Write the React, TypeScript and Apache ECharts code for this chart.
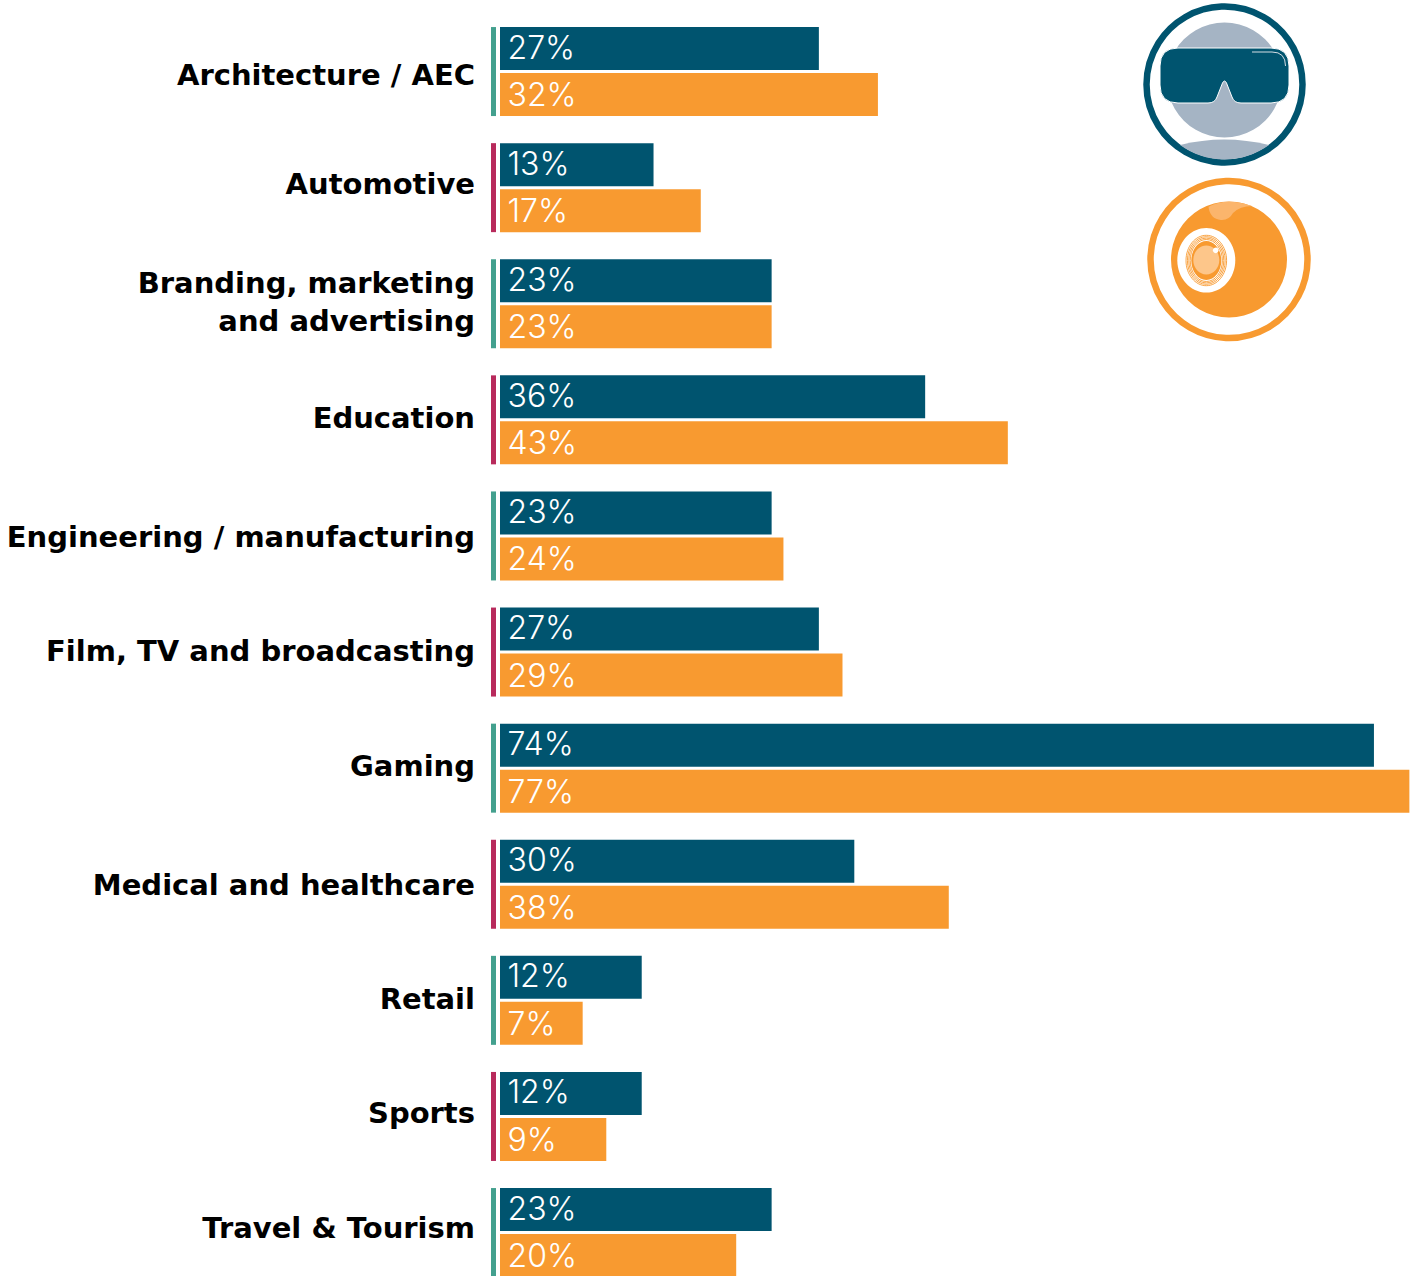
import React, { useEffect, useRef } from "react";
import * as echarts from "echarts";

const categories = [
  "Architecture / AEC",
  "Automotive",
  "Branding, marketing\nand advertising",
  "Education",
  "Engineering / manufacturing",
  "Film, TV and broadcasting",
  "Gaming",
  "Medical and healthcare",
  "Retail",
  "Sports",
  "Travel & Tourism",
];
const vrValues = [27, 13, 23, 36, 23, 27, 74, 30, 12, 12, 23];
const webValues = [32, 17, 23, 43, 24, 29, 77, 38, 7, 9, 20];
const labelNudges = [3, -4, 0, -2, 1, -1, -2, 1, -1, -3, -5];
const accentColors = ["#43a08e", "#b82a5c"];
const BLUE = "#00546f";
const ORANGE = "#f89a30";
const GREY = "#a5b4c4";

const SHOULDERS = "M1180,145 Q1224,134 1269,145 A75.5,75.5 0 0 1 1180,145 Z";
const GOGGLES =
  "M1178,48 H1271 Q1289,48 1289,66 V85 Q1289,103 1271,103 H1241 Q1234,103 1232,97 L1226.5,83 Q1224.5,79 1222.5,83 L1217,97 Q1215,103 1208,103 H1178 Q1160,103 1160,85 V66 Q1160,48 1178,48 Z";
const GLINT = "M1252,52 H1272 Q1285.5,52 1285.5,66";
const SHINE =
  "M1208.5,206.7 Q1210,219 1221,220 Q1229,220.5 1233,213 Q1240,206 1252,206 Q1240,201.7 1229,201.7 Q1218,201.7 1208.5,206.7 Z";

echarts.graphic.registerShape("shoulders", echarts.graphic.extendPath(SHOULDERS, {}));
echarts.graphic.registerShape("goggles", echarts.graphic.extendPath(GOGGLES, {}));
echarts.graphic.registerShape("glint", echarts.graphic.extendPath(GLINT, {}));
echarts.graphic.registerShape("shine", echarts.graphic.extendPath(SHINE, {}));

export default function App() {
  const ref = useRef<HTMLDivElement>(null);
  useEffect(() => {
    document.body.style.margin = "0";
    const chart = echarts.init(ref.current!, undefined, { renderer: "svg" });
    const barLabel = {
      show: true,
      position: "insideLeft" as const,
      distance: 7.5,
      color: "#fff",
      fontFamily: "Inter",
      fontWeight: 300,
      fontSize: 32,
      formatter: "{c}%",
    };
    const ringEllipses = [
      [20.3, 25.2],
      [18.9, 23.8],
      [17.5, 22.4],
      [16.1, 21],
    ];
    const catStyle = {
      color: "#000",
      fontFamily: "DejaVu Sans",
      fontWeight: 700,
      fontSize: 29,
      lineHeight: 38,
    };
    const rich: Record<string, any> = {
      plain: { ...catStyle },
      spacer: { fontSize: 1, lineHeight: 4 },
    };
    labelNudges.forEach((d, i) => {
      rich["r" + i] = {
        ...catStyle,
        padding: d > 0 ? [2 * d, 0, 0, 0] : [0, 0, -2 * d, 0],
      };
    });
    chart.setOption({
      animation: false,
      grid: { left: 500, top: 13.5, width: 918, height: 1277.1, containLabel: false },
      xAxis: { type: "value", min: 0, max: 77.73, show: false },
      yAxis: {
        type: "category",
        inverse: true,
        data: categories,
        axisLine: { show: false },
        axisTick: { show: false },
        splitLine: { show: false },
        axisLabel: {
          margin: 25,
          align: "right",
          ...catStyle,
          rich,
          formatter: (value: string, index: number) => {
            const lines = value.split("\n");
            if (lines.length > 1) {
              return lines.map((l) => `{plain|${l}}`).join("\n") + "\n{spacer| }";
            }
            return `{r${index}|${value}}`;
          },
        },
      },
      series: [
        {
          name: "VR",
          type: "bar",
          data: vrValues,
          barWidth: 43,
          barGap: "7%",
          itemStyle: { color: BLUE },
          label: { ...barLabel, offset: [0, -1.5] },
        },
        {
          name: "360",
          type: "bar",
          data: webValues,
          barWidth: 43,
          barGap: "7%",
          itemStyle: { color: ORANGE },
          label: barLabel,
        },
        {
          name: "accent",
          type: "custom",
          silent: true,
          clip: false,
          data: categories.map((_, i) => [0, i]),
          encode: { x: 0, y: 1 },
          renderItem: (params: any, api: any) => {
            const p = api.coord([0, api.value(1)]);
            return {
              type: "rect",
              shape: { x: p[0] - 9, y: p[1] - 44.5, width: 5, height: 89 },
              style: { fill: accentColors[params.dataIndex % 2] },
            };
          },
        },
      ],
      graphic: [
        { type: "circle", shape: { cx: 1224.5, cy: 84.5, r: 78 }, style: { fill: "#fff", stroke: BLUE, lineWidth: 6.5 } },
        { type: "circle", shape: { cx: 1224.5, cy: 80, r: 57.5 }, style: { fill: GREY } },
        { type: "shoulders", x: 0, y: 0, style: { fill: GREY } },
        { type: "goggles", x: 0, y: 0, style: { fill: BLUE, stroke: "#fff", lineWidth: 1 } },
        { type: "glint", x: 0, y: 0, style: { fill: "none", stroke: "#d5dde4", lineWidth: 1 } },

        { type: "circle", shape: { cx: 1229, cy: 259.5, r: 78.5 }, style: { fill: "#fff", stroke: ORANGE, lineWidth: 6.5 } },
        { type: "circle", shape: { cx: 1229, cy: 259.5, r: 58 }, style: { fill: ORANGE } },
        { type: "shine", x: 0, y: 0, style: { fill: "#fbb56c" } },
        { type: "ellipse", shape: { cx: 1206.3, cy: 260.3, rx: 29, ry: 32.3 }, style: { fill: "#fff" } },
        ...ringEllipses.map(([rx, ry]) => ({
          type: "ellipse",
          shape: { cx: 1206.3, cy: 260.5, rx, ry },
          style: { fill: "none", stroke: ORANGE, lineWidth: 0.9 },
        })),
        { type: "ellipse", shape: { cx: 1206.3, cy: 260.5, rx: 15, ry: 19.5 }, style: { fill: ORANGE } },
        { type: "ellipse", shape: { cx: 1206.3, cy: 260, rx: 13, ry: 14.5 }, style: { fill: "#fdc68a" } },
        { type: "circle", shape: { cx: 1215.7, cy: 250.3, r: 2.8 }, style: { fill: "#fff" } },
      ],
    });
    return () => chart.dispose();
  }, []);
  return (
    <div style={{ position: "absolute", left: 0, top: 0, width: 1418, height: 1276, overflow: "hidden" }}>
      <div ref={ref} style={{ width: 1418, height: 1292 }} />
    </div>
  );
}
